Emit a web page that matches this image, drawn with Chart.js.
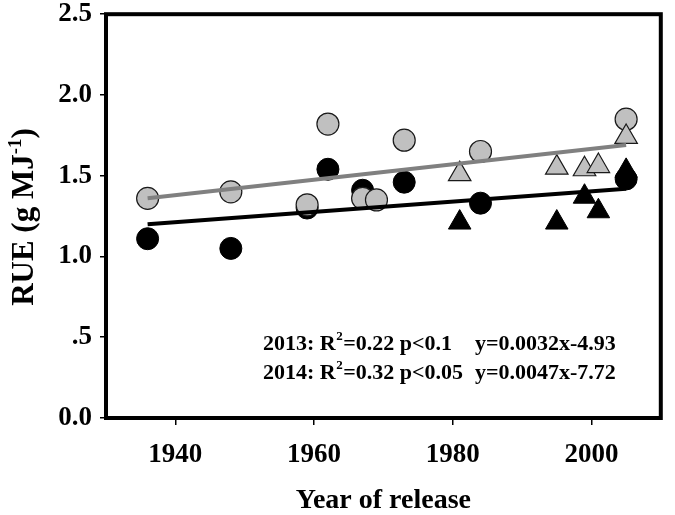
<!DOCTYPE html>
<html>
<head>
<meta charset="utf-8">
<script src="https://cdn.jsdelivr.net/npm/chart.js@4"></script>
<style>
  html, body { margin: 0; padding: 0; background: #fff; }
  #wrap { width: 675px; height: 515px; }
</style>
</head>
<body>
<div id="wrap"><canvas id="chart" width="675" height="515"></canvas></div>
<script>
// Chart data
const grayCircleYears = [1936, 1948, 1959, 1962, 1967, 1969, 1973, 1984, 2005];
const grayCircleRue   = [1.36, 1.40, 1.32, 1.82, 1.36, 1.35, 1.72, 1.65, 1.85];

const blackCircleYears = [1936, 1948, 1959, 1962, 1967, 1973, 1984, 2005];
const blackCircleRue   = [1.11, 1.05, 1.30, 1.54, 1.41, 1.46, 1.33, 1.48];

const grayTriangleYears = [1981, 1995, 1999, 2001, 2005];
const grayTriangleRue   = [1.51, 1.55, 1.54, 1.56, 1.74];

const blackTriangleYears = [1981, 1995, 1999, 2001, 2005];
const blackTriangleRue   = [1.21, 1.21, 1.37, 1.28, 1.53];

// fitted lines, end points
const fitYears = [1936, 2005];
const grayFit  = [1.36, 1.69];
const blackFit = [1.20, 1.42];

const xTicks = [1940, 1960, 1980, 2000];
const yTicks = [0, 0.5, 1.0, 1.5, 2.0, 2.5];

const statLines = [
    { left: '2013: R', sup: '2', rest: '=0.22 p<0.1', eq: 'y=0.0032x-4.93' },
    { left: '2014: R', sup: '2', rest: '=0.32 p<0.05', eq: 'y=0.0047x-7.72' }
];

const SERIF = '"Liberation Serif", "Times New Roman", serif';

function toPoints(xs, ys) {
    return xs.map((x, i) => ({ x: x, y: ys[i] }));
}

// frame + y title + stats text
const extrasPlugin = {
    id: 'extras',
    afterDraw(chart) {
        const ctx = chart.ctx;
        const a = chart.chartArea;
        ctx.save();

        // box around the plot
        ctx.strokeStyle = '#000';
        ctx.lineWidth = 4;
        ctx.strokeRect(a.left, a.top, a.right - a.left, a.bottom - a.top);

        // y axis title with superscript
        const big = 'bold 31px ' + SERIF;
        const small = 'bold 19px ' + SERIF;
        const p1 = 'RUE (g MJ', p2 = '-1', p3 = ')';
        ctx.fillStyle = '#000';
        ctx.textBaseline = 'alphabetic';
        ctx.textAlign = 'left';
        ctx.font = big;
        const w1 = ctx.measureText(p1).width, w3 = ctx.measureText(p3).width;
        ctx.font = small;
        const w2 = ctx.measureText(p2).width;
        const total = w1 + w2 + w3;
        ctx.translate(33, 217);
        ctx.rotate(-Math.PI / 2);
        let x = -total / 2;
        ctx.font = big;
        ctx.fillText(p1, x, 0);
        x += w1;
        ctx.font = small;
        ctx.fillText(p2, x, -12);
        x += w2;
        ctx.font = big;
        ctx.fillText(p3, x, 0);
        ctx.setTransform(1, 0, 0, 1, 0, 0);

        // regression stats
        const txt = 'bold 22px ' + SERIF;
        const sup = 'bold 13px ' + SERIF;
        statLines.forEach((ln, i) => {
            const base = 350 + i * 29;
            let sx = 263;
            ctx.font = txt;
            ctx.fillText(ln.left, sx, base);
            sx += ctx.measureText(ln.left).width;
            ctx.font = sup;
            ctx.fillText(ln.sup, sx + 0.5, base - 10);
            sx += ctx.measureText(ln.sup).width + 1;
            ctx.font = txt;
            ctx.fillText(ln.rest, sx, base);
            ctx.fillText(ln.eq, 475, base);
        });
        ctx.restore();
    }
};

const ctx = document.getElementById('chart').getContext('2d');
new Chart(ctx, {
    type: 'scatter',
    data: {
        datasets: [
            {
                label: 'fit gray',
                type: 'line',
                data: toPoints(fitYears, grayFit),
                borderColor: '#808080',
                borderWidth: 4,
                pointRadius: 0,
                fill: false,
                order: 0
            },
            {
                label: 'fit black',
                type: 'line',
                data: toPoints(fitYears, blackFit),
                borderColor: '#000',
                borderWidth: 4,
                pointRadius: 0,
                fill: false,
                order: 0
            },
            {
                label: 'gray triangles',
                data: toPoints(grayTriangleYears, grayTriangleRue),
                pointStyle: 'triangle',
                pointRadius: 13,
                backgroundColor: '#c0c0c0',
                borderColor: '#1a1a1a',
                borderWidth: 1.2,
                order: 1
            },
            {
                label: 'gray circles',
                data: toPoints(grayCircleYears, grayCircleRue),
                pointStyle: 'circle',
                pointRadius: 11,
                backgroundColor: '#c0c0c0',
                borderColor: '#1a1a1a',
                borderWidth: 1.2,
                order: 2
            },
            {
                label: 'black triangles',
                data: toPoints(blackTriangleYears, blackTriangleRue),
                pointStyle: 'triangle',
                pointRadius: 13,
                backgroundColor: '#000',
                borderColor: '#000',
                borderWidth: 1,
                order: 3
            },
            {
                label: 'black circles',
                data: toPoints(blackCircleYears, blackCircleRue),
                pointStyle: 'circle',
                pointRadius: 11,
                backgroundColor: '#000',
                borderColor: '#000',
                borderWidth: 1,
                order: 4
            }
        ]
    },
    options: {
        responsive: false,
        animation: false,
        events: [],
        layout: { padding: { top: 12, right: 7, left: 0, bottom: 0 } },
        plugins: {
            legend: { display: false },
            tooltip: { enabled: false }
        },
        scales: {
            x: {
                type: 'linear',
                min: 1930,
                max: 2010,
                afterBuildTicks: (scale) => { scale.ticks = xTicks.map(v => ({ value: v })); },
                afterFit: (scale) => { scale.height = 97; },
                grid: { drawOnChartArea: false, color: '#000', lineWidth: 1.5, tickLength: 7 },
                border: { display: false },
                ticks: {
                    color: '#000',
                    padding: 14,
                    maxRotation: 0,
                    font: { family: SERIF, size: 27, weight: 'bold' },
                    callback: (v) => String(v)
                },
                title: {
                    display: true,
                    text: 'Year of release',
                    color: '#000',
                    padding: { top: 0, bottom: 0 },
                    font: { family: SERIF, size: 28, weight: 'bold', lineHeight: 1 }
                }
            },
            y: {
                type: 'linear',
                min: 0,
                max: 2.5,
                afterBuildTicks: (scale) => { scale.ticks = yTicks.map(v => ({ value: v })); },
                afterFit: (scale) => { scale.width = 106; },
                grid: { drawOnChartArea: false, color: '#000', lineWidth: 1.5, tickLength: 6 },
                border: { display: false },
                ticks: {
                    color: '#000',
                    padding: 8,
                    // small lineHeight keeps the top label from pushing the plot down
                    font: { family: SERIF, size: 27, weight: 'bold', lineHeight: 0.29 },
                    callback: (v) => v === 0.5 ? '.5' : Number(v).toFixed(1)
                },
                title: { display: false }
            }
        }
    },
    plugins: [extrasPlugin]
});
</script>
</body>
</html>
